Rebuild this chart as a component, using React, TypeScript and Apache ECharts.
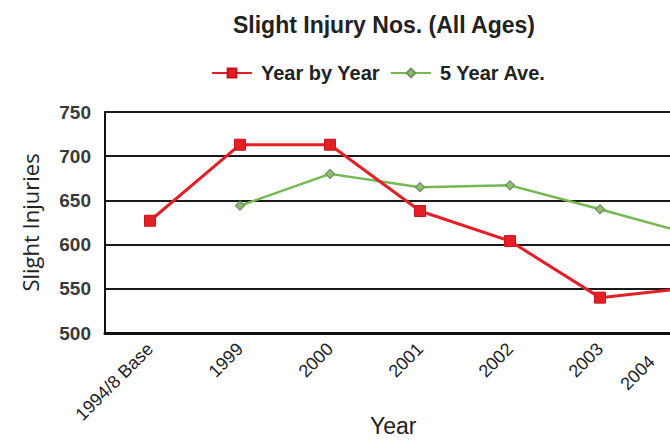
import React, { useEffect, useRef } from "react";
import * as echarts from "echarts";

// Slight injuries, all ages
const categories = ["1994/8 Base", "1999", "2000", "2001", "2002", "2003", "2004"];
const yearByYear = [627, 713, 713, 638, 604, 540, 551];
const fiveYearAve = [null, 644, 680, 665, 667, 640, 612];
const yTicks = { min: 500, max: 750, interval: 50 };

const RED = "#e31e25";
const GREEN = "#72b94f";

export default function App() {
  const ref = useRef<HTMLDivElement>(null);

  useEffect(() => {
    if (!ref.current) return;
    const chart = echarts.init(ref.current, null, { renderer: "svg" });
    chart.setOption({
      animation: false,
      backgroundColor: "#ffffff",
      title: {
        text: "Slight Injury Nos. (All Ages)",
        left: 379,
        top: 8,
        textAlign: "center",
        textStyle: {
          fontFamily: "Liberation Sans, Arial, sans-serif",
          fontSize: 23,
          fontWeight: "bold",
          color: "#222",
        },
      },
      legend: {
        left: 206,
        top: 58,
        itemWidth: 40,
        itemHeight: 11,
        itemGap: 10,
        textStyle: {
          fontFamily: "Liberation Sans, Arial, sans-serif",
          fontSize: 20,
          fontWeight: "bold",
          color: "#222",
          padding: [0, 0, 0, 4],
        },
        data: ["Year by Year", "5 Year Ave."],
      },
      // the plot runs past the right edge of the page
      grid: {
        left: 105,
        top: 112,
        width: 630,
        height: 221,
        containLabel: false,
        outerBoundsMode: "none",
      },
      xAxis: {
        type: "category",
        data: categories,
        boundaryGap: true,
        axisLine: { show: true, lineStyle: { color: "#111", width: 3 } },
        axisTick: { show: false },
        axisLabel: {
          rotate: 45,
          margin: 13,
          interval: 0,
          fontFamily: "Liberation Sans Narrow, Arial Narrow, sans-serif",
          fontSize: 18,
          color: "#222",
          // the last year sits at the page edge; pull its label back inside
          formatter: (v: string, i: number) =>
            i === categories.length - 1 ? `{edge|${v}}` : v,
          rich: {
            edge: {
              fontFamily: "Liberation Sans Narrow, Arial Narrow, sans-serif",
              fontSize: 18,
              color: "#222",
              padding: [0, 36, 36, 0],
            },
          },
        },
      },
      yAxis: {
        type: "value",
        min: yTicks.min,
        max: yTicks.max,
        interval: yTicks.interval,
        name: "Slight Injuries",
        nameLocation: "middle",
        nameGap: 64,
        nameRotate: 90,
        nameTextStyle: {
          fontFamily: "Open Sans, sans-serif",
          fontSize: 22,
          color: "#222",
        },
        axisLine: { show: true, lineStyle: { color: "#111", width: 2 } },
        axisTick: { show: false },
        axisLabel: {
          margin: 14,
          fontFamily: "Liberation Sans, Arial, sans-serif",
          fontSize: 19,
          fontWeight: "bold",
          color: "#3a3a3a",
        },
        splitLine: { show: true, lineStyle: { color: "#1a1a1a", width: 2 } },
      },
      graphic: [
        {
          type: "text",
          left: 370,
          top: 414,
          style: {
            text: "Year",
            fontFamily: "Liberation Sans Narrow, Arial Narrow, sans-serif",
            fontSize: 23,
            fill: "#222",
          },
        },
      ],
      series: [
        {
          name: "5 Year Ave.",
          type: "line",
          data: fiveYearAve,
          connectNulls: false,
          symbol: "diamond",
          symbolSize: 9,
          lineStyle: { color: GREEN, width: 2.5 },
          itemStyle: { color: "#8cc06c", borderColor: "#6f8d63", borderWidth: 1.2 },
          z: 2,
        },
        {
          name: "Year by Year",
          type: "line",
          data: yearByYear,
          symbol: "rect",
          symbolSize: 11,
          lineStyle: { color: RED, width: 3 },
          itemStyle: { color: RED, borderColor: "#c8141b", borderWidth: 1 },
          z: 3,
        },
      ],
    });
    return () => chart.dispose();
  }, []);

  return (
    <div
      ref={ref}
      style={{ position: "fixed", left: 0, top: 0, width: 670, height: 446 }}
    />
  );
}
